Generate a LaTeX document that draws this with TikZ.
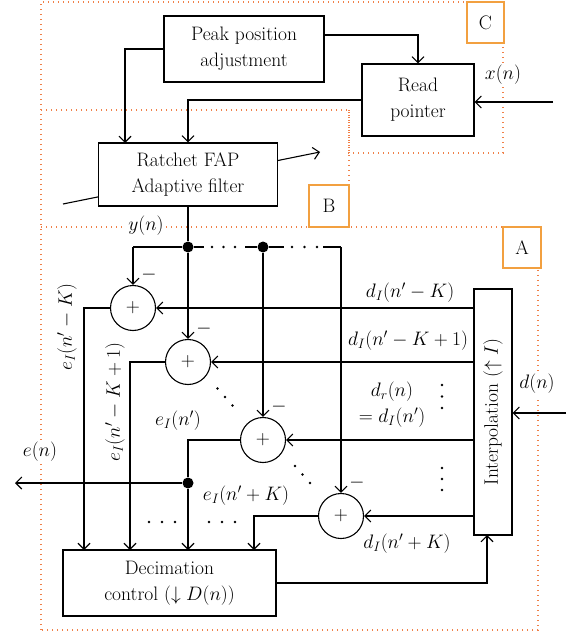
\RequirePackage{fix-cm}
\documentclass[tikz,border=0pt]{standalone}
\usetikzlibrary{arrows.meta,calc}
\definecolor{dotc}{RGB}{240,128,72}
\definecolor{boxc}{RGB}{242,160,64}
\begin{document}
\begin{tikzpicture}[x=1pt,y=-1pt,
  font=\fontsize{19.5}{26}\selectfont,
  line width=1.1pt,
  >={Straight Barb[length=6pt,width=12pt]},
  blk/.style={draw, fill=white, align=center, inner sep=0pt},
  adder/.style={draw, circle, fill=white, minimum size=45pt, inner sep=0pt},
  jdot/.style={circle, fill, inner sep=0pt, minimum size=11pt},
  lab/.style={inner sep=1pt},
  wlab/.style={inner sep=2pt, fill=white},
  tagbox/.style={draw=boxc, line width=1.1pt, fill=white, inner sep=0pt},
  region/.style={draw=dotc, line width=1.2pt, dash pattern=on 1.3pt off 3.7pt}]
\useasboundingbox (0,0) rectangle (566,636);

% dotted regions
\draw[region] (41,630) -- (41,2) -- (503,2) -- (503,153) -- (349,153) -- (349,110) -- (41,110);
\draw[region] (349,110) -- (349,227);
\draw[region] (41,227) -- (538,227) -- (538,630) -- (41,630);

% region tags
\node[tagbox, minimum width=37pt, minimum height=41pt] (tC) at (485.5,22.5) {C};
\node[tagbox, minimum width=40pt, minimum height=42pt] (tB) at (329,206) {B};
\node[tagbox, minimum width=38pt, minimum height=41pt] (tA) at (522,247.5) {A};

% adaptive arrow through the filter
\coordinate (adin) at (63,204);
\coordinate (adout) at (320,152);
\draw[->] (adin) -- (adout);

% blocks
\node[blk, minimum width=160pt, minimum height=66pt] (peak) at (244,49) {Peak position\\adjustment};
\node[blk, minimum width=112pt, minimum height=72pt] (read) at (418,100) {Read\\pointer};
\node[blk, minimum width=179pt, minimum height=63pt] (rat) at (188,174.5) {Ratchet FAP\\Adaptive filter};
\node[blk, minimum width=38pt, minimum height=246pt] (interp) at (493,412) {};
\node[rotate=90] (interpT) at (interp.center) {Interpolation ($\uparrow I$)};
\node[blk, minimum width=213pt, minimum height=66pt] (dec) at (169.5,583) {Decimation\\control ($\downarrow D(n)$)};

% adders
\node[adder] (a1) at (133,308) {$+$};
\node[adder] (a2) at (188,362) {$+$};
\node[adder] (a3) at (263,440) {$+$};
\node[adder] (a4) at (341,516) {$+$};
\foreach \a in {a1,a2,a3,a4} \node[lab] at ($(\a)+(16,-33)$) {$-$};

% junctions
\node[jdot] (j1) at (188,247) {};
\node[jdot] (j2) at (263,247) {};
\node[jdot] (j3) at (188,483) {};
\coordinate (c1) at (133,247);
\coordinate (c4) at (341,247);
\coordinate (h1) at (204,247);
\coordinate (h2) at (245,247);
\coordinate (h3) at (284,247);
\coordinate (h4) at (323,247);

% top connections
\coordinate (p1) at (324,35);
\draw[->] (p1) -| (read);
\coordinate (r1) at (125,143);
\draw[->] (peak) -| (r1);
\draw[->] (read) -| (rat);
\coordinate (xin) at (553,102);
\draw[->] (xin) -- (read.east |- xin);

% y(n) bus
\draw (rat) -- (j1);
\draw (c1) -- (j1) -- (h1);
\draw (h2) -- (j2) -- (h3);
\draw (h4) -- (c4);
\foreach \x in {212,223.5,235,292,304.5,317} \fill (\x,247) circle (1.3pt);

\draw[->] (c1) -- (a1);
\draw[->] (j1) -- (a2);
\draw[->] (j2) -- (a3);
\draw[->] (c4) -- (a4);

% interpolation outputs
\draw[->] (interp.west |- a1) -- (a1);
\draw[->] (interp.west |- a2) -- (a2);
\draw[->] (interp.west |- a3) -- (a3);
\draw[->] (interp.west |- a4) -- (a4);

% adder outputs to decimation
\coordinate (d1) at (84,550);
\coordinate (d2) at (130,550);
\coordinate (d3) at (188,550);
\coordinate (d4) at (254,550);
\draw[->] (a1) -| (d1);
\draw[->] (a2) -| (d2);
\draw (a3) -| (j3);
\draw[->] (j3) -- (d3);
\draw[->] (a4) -| (d4);
\coordinate (eout) at (15,483);
\draw[->] (j3) -- (eout);

% decimation to interpolation, d(n) input
\coordinate (ib) at (487,535);
\draw[->] (dec.east) -| (ib);
\coordinate (din) at (566,413);
\draw[->] (din) -- (interp.east |- din);

% dots
\foreach \y in {385,396.5,408,468,479,490} \fill (442,\y) circle (1.3pt);
\foreach \x in {149,162,175,209,222,235} \fill (\x,522) circle (1.3pt);
\foreach \x/\y in {217.5/388.5,225/397,232.5/405.5,295/466,302.5/474.5,310/483} \fill (\x,\y) circle (1.3pt);

% labels
\node[wlab] (ylab) at (146,226) {$y(n)$};
\node[wlab] (xlab) at (503,75) {$x(n)$};
\node[wlab] (dlab) at (537,384) {$d(n)$};
\node[wlab] (elab) at (40,452) {$e(n)$};
\node[lab] at (410,293) {$d_I(n'-K)$};
\node[lab] at (408,341) {$d_I(n'-K+1)$};
\node[lab, align=center] at (392,405) {$d_r(n)$\\$=d_I(n')$};
\node[lab] at (407,544) {$d_I(n'+K)$};
\node[lab] at (178,421) {$e_I(n')$};
\node[lab] at (246,496) {$e_I(n'+K)$};
\node[lab, rotate=90] at (67,327) {$e_I(n'-K)$};
\node[lab, rotate=90] at (115,402) {$e_I(n'-K+1)$};
\end{tikzpicture}
\end{document}
